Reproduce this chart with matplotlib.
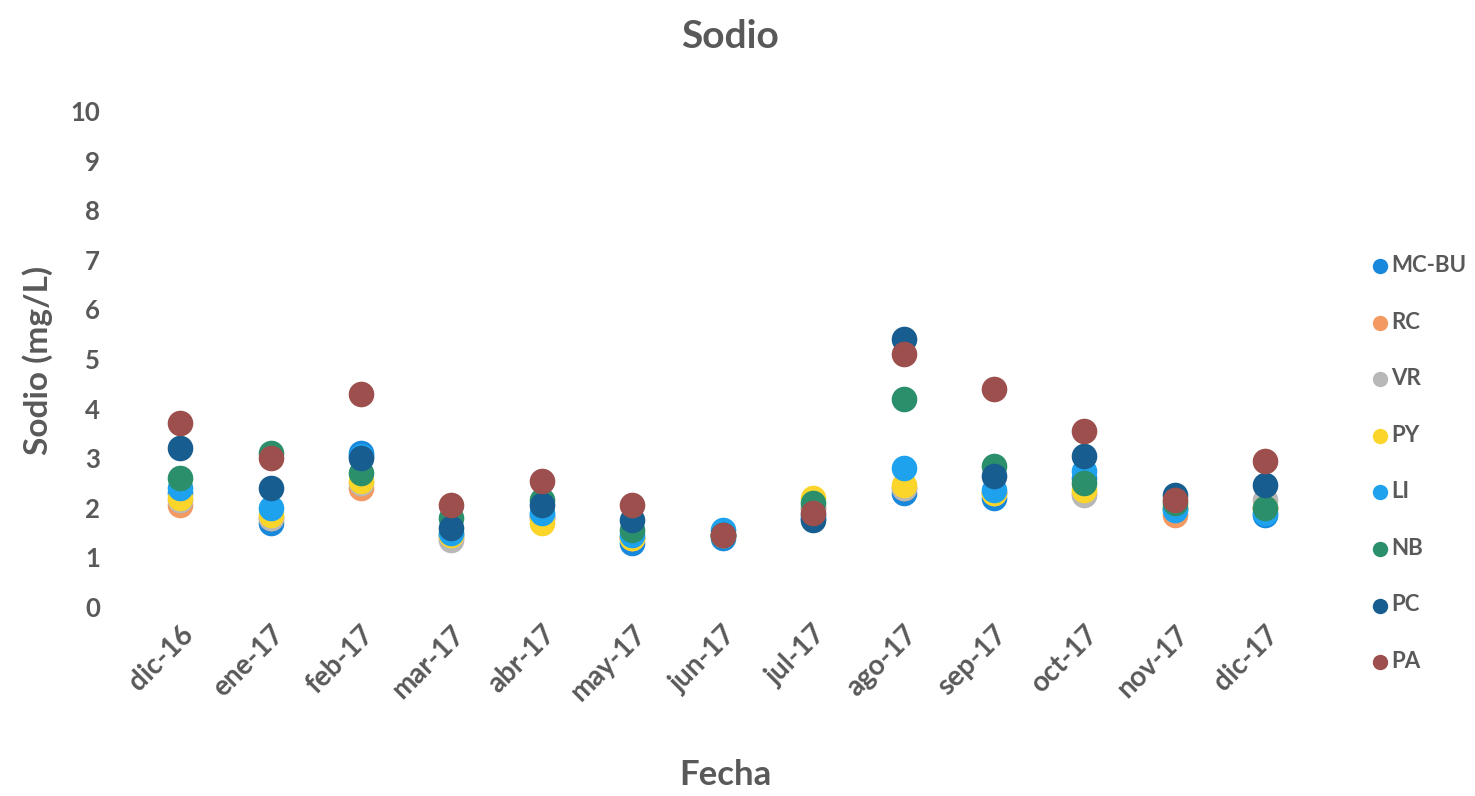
import matplotlib
matplotlib.use("Agg")
import matplotlib.pyplot as plt

plt.rcParams["font.family"] = ["Lato", "DejaVu Sans"]

months = ["dic-16", "ene-17", "feb-17", "mar-17", "abr-17", "may-17", "jun-17",
          "jul-17", "ago-17", "sep-17", "oct-17", "nov-17", "dic-17"]

mc_bu = [2.3, 1.7, 3.1, 1.45, 1.85, 1.3, 1.4, 1.8, 2.3, 2.2, 2.6, 2.0, 1.85]
rc = [2.05, 1.8, 2.4, 1.4, 1.8, 1.4, 1.45, 2.0, 2.4, 2.3, 2.3, 1.85, 2.0]
vr = [2.15, 1.8, 2.5, 1.35, 1.8, 1.4, 1.45, 2.0, 2.4, 2.3, 2.25, 2.0, 2.15]
py = [2.2, 1.85, 2.55, 1.45, 1.7, 1.4, 1.45, 2.2, 2.45, 2.3, 2.35, 2.0, 2.0]
li = [2.4, 2.0, 3.05, 1.5, 1.9, 1.45, 1.55, 1.85, 2.8, 2.35, 2.75, 1.95, 1.9]
nb = [2.6, 3.1, 2.7, 1.8, 2.15, 1.55, 1.45, 2.1, 4.2, 2.85, 2.5, 2.1, 2.0]
pc = [3.2, 2.4, 3.0, 1.6, 2.05, 1.75, 1.45, 1.75, 5.4, 2.65, 3.05, 2.25, 2.45]
pa = [3.7, 3.0, 4.3, 2.05, 2.55, 2.05, 1.45, 1.9, 5.1, 4.4, 3.55, 2.15, 2.95]

series = [
    ("MC-BU", mc_bu, "#1788db"),
    ("RC", rc, "#f39a62"),
    ("VR", vr, "#b8b8b8"),
    ("PY", py, "#fbd52a"),
    ("LI", li, "#1ea2ee"),
    ("NB", nb, "#2c8f6c"),
    ("PC", pc, "#185d8f"),
    ("PA", pa, "#9c4f4d"),
]

text_color = "#595959"

fig = plt.figure(figsize=(14.75, 7.96), dpi=100)
ax = fig.add_axes([0.0915, 0.2374, 0.797, 0.6232])

x = range(len(months))
for name, vals, color in series:
    ax.scatter(x, vals, s=340, color=color, label=name, linewidths=0,
               clip_on=False, zorder=3)

ax.set_xlim(-0.5, len(months) - 0.5)
ax.set_ylim(0, 10)
ax.set_yticks(range(0, 11))
ax.set_xticks(list(x))
ax.set_xticklabels(months, rotation=45, ha="right", rotation_mode="anchor")
ax.tick_params(axis="both", length=0, colors=text_color, labelsize=18.5)
ax.tick_params(axis="y", pad=25)
ax.tick_params(axis="x", pad=10, labelsize=20)
for lbl in ax.get_xticklabels() + ax.get_yticklabels():
    lbl.set_fontweight("bold")
for sp in ax.spines.values():
    sp.set_visible(False)

fig.text(0.495, 1 - 36 / 796, "Sodio", ha="center", va="center",
         fontsize=28, fontweight="bold", color=text_color)
fig.text(38 / 1475, 1 - 360 / 796, "Sodio (mg/L)", ha="center", va="center",
         rotation=90, fontsize=24, fontweight="bold", color=text_color)
fig.text(725 / 1475, 1 - 775 / 796, "Fecha", ha="center", va="center",
         fontsize=25, fontweight="bold", color=text_color)

leg = ax.legend(loc="upper left", bbox_to_anchor=(1373 / 1475, 1 - 255 / 796),
                bbox_transform=fig.transFigure, frameon=False, markerscale=0.6,
                handlelength=0.6, handletextpad=0.2, labelspacing=1.60,
                fontsize=16, borderaxespad=0, borderpad=0)
for t in leg.get_texts():
    t.set_color(text_color)
    t.set_fontweight("bold")

fig.savefig("out.png", dpi=100)
